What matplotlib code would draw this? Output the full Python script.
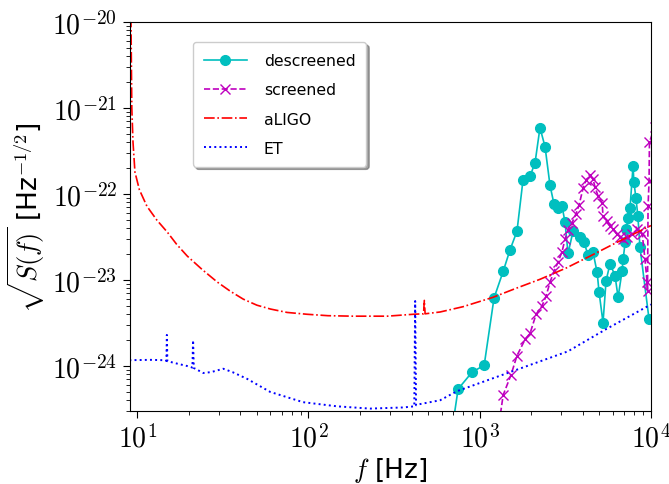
import math
import matplotlib
matplotlib.use("Agg")
import matplotlib.pyplot as plt
from matplotlib.ticker import FuncFormatter, LogLocator

plt.rcParams['mathtext.fontset'] = 'cm'
plt.rcParams['font.family'] = ['DejaVu Sans']

# ---- data ----
descreened_f = [680, 748, 903, 1062, 1213, 1371, 1503, 1651, 1790, 1969, 2104, 2249, 2408,
                2574, 2718, 2868, 3027, 3150, 3280, 3510, 3856, 4066, 4294, 4590, 4850,
                4980, 5250, 5470, 5770, 6170, 6430, 6780, 6880, 7070, 7160, 7350, 7550,
                7863, 7950, 8180, 8390, 8630, 9750]
descreened_s = [1.5e-25, 5.4e-25, 8.5e-25, 1.02e-24, 6.2e-24, 1.26e-23, 2.24e-23, 3.7e-23,
                1.45e-22, 1.62e-22, 2.3e-22, 5.9e-22, 3.55e-22, 1.26e-22, 7.6e-23, 6.9e-23,
                7.2e-23, 4.7e-23, 2.04e-23, 3.7e-23, 3.2e-23, 2.75e-23, 1.95e-23, 2.1e-23,
                1.23e-23, 7.2e-24, 3.2e-24, 9.8e-24, 1.55e-23, 1.12e-23, 6.3e-24, 1.26e-23,
                1.74e-23, 2.75e-23, 3.9e-23, 5.2e-23, 6.9e-23, 2.14e-22, 1.38e-22, 8.9e-23,
                5.5e-23, 2.4e-23, 3.5e-24]

screened_f = [1300, 1371, 1524, 1651, 1841, 1969, 2134, 2311, 2441, 2576, 2718, 2868, 3027,
              3150, 3280, 3457, 3652, 3800, 4016, 4180, 4414, 4590, 4720, 4910, 5190, 5250,
              5546, 5770, 6010, 6340, 6600, 6870, 7260, 7760, 8300, 8630, 8900, 9230, 9490,
              9550, 9620, 9750, 9800, 10500]
screened_s = [2.2e-25, 4.6e-25, 7.9e-25, 1.32e-24, 2.04e-24, 2.4e-24, 4.0e-24, 5.0e-24,
              6.5e-24, 9.5e-24, 1.26e-23, 1.62e-23, 2.14e-23, 3.0e-23, 3.8e-23, 4.6e-23,
              5.9e-23, 7.4e-23, 1.17e-22, 1.45e-22, 1.66e-22, 1.48e-22, 1.2e-22, 9.5e-23,
              7.9e-23, 5.5e-23, 4.9e-23, 4.3e-23, 3.9e-23, 3.4e-23, 3.2e-23, 3.0e-23,
              3.16e-23, 3.4e-23, 3.9e-23, 3.7e-23, 3.4e-23, 1.74e-23, 9.5e-24, 7.4e-24,
              7.2e-23, 1.4e-22, 4.0e-22, 6.0e-22]

aligo_f = [9.1, 9.2, 9.25, 9.3, 9.45, 9.7, 10.3, 11.4, 13, 15, 17, 19.6, 24, 29.3, 35, 41.6,
           50, 60, 75, 98, 130, 182, 288, 410, 470, 475, 480, 587, 800, 1197, 1600, 2250,
           3200, 4414, 6000, 7870, 10000]
aligo_s = [1.0e-19, 1.0e-20, 3.0e-21, 1.0e-21, 4.0e-22, 1.8e-22, 1.12e-22, 7.2e-23, 5.0e-23,
           3.6e-23, 2.6e-23, 1.9e-23, 1.32e-23, 9.5e-24, 7.4e-24, 6.0e-24, 5.1e-24, 4.6e-24,
           4.2e-24, 4.0e-24, 3.85e-24, 3.8e-24, 3.8e-24, 4.0e-24, 4.05e-24, 5.8e-24, 4.05e-24,
           4.25e-24, 4.9e-24, 6.3e-24, 7.9e-24, 1.02e-23, 1.38e-23, 1.9e-23, 2.6e-23,
           3.4e-23, 4.3e-23]

et_f = [9.0, 12, 14.2, 14.8, 14.9, 15.0, 17, 19.6, 21.0, 21.2, 21.4, 24.3, 27, 31.8, 36,
        43.8, 59.8, 93, 147, 229, 358, 415, 420, 425, 445, 587, 737, 1505, 3270, 5500, 10000]
et_s = [1.17e-24, 1.18e-24, 1.17e-24, 1.15e-24, 2.3e-24, 1.14e-24, 1.07e-24, 1.0e-24,
        0.96e-24, 2.0e-24, 0.95e-24, 0.83e-24, 0.85e-24, 0.93e-24, 0.85e-24, 0.71e-24,
        0.5e-24, 0.38e-24, 0.34e-24, 0.32e-24, 0.33e-24, 0.34e-24, 5.7e-24, 0.35e-24,
        0.36e-24, 0.40e-24, 0.51e-24, 0.85e-24, 1.48e-24, 2.7e-24, 5.2e-24]

x_limits = (9.05, 1e4)
y_limits = (3.0e-25, 1e-20)

# ---- plot ----
fig = plt.figure(figsize=(6.69, 4.85), dpi=100)
ax = fig.add_axes([0.194, 0.1505, 0.779, 0.802])

ax.loglog(descreened_f, descreened_s, color='c', marker='o', markersize=7,
          linewidth=1.2, label='descreened')
ax.loglog(screened_f, screened_s, color='m', marker='x', markersize=7, linestyle='--',
          linewidth=1.2, label='screened')
ax.loglog(aligo_f, aligo_s, color='r', linestyle='-.', linewidth=1.2, label='aLIGO')
ax.loglog(et_f, et_s, color='b', linestyle=':', linewidth=1.4, label='ET')

ax.set_xlim(*x_limits)
ax.set_ylim(*y_limits)


def cm_pow(v, pos):
    e = int(round(math.log10(v)))
    return r'$10^{%d}$' % e


for axis in (ax.xaxis, ax.yaxis):
    axis.set_major_locator(LogLocator(base=10, numticks=20))
    axis.set_major_formatter(FuncFormatter(cm_pow))

ax.tick_params(axis='both', which='major', labelsize=20, length=5, pad=4)
ax.tick_params(axis='both', which='minor', length=3)

ax.set_xlabel(r'$f$ [Hz]', fontsize=19, labelpad=2)
ax.set_ylabel(r'$\sqrt{S(f)}$ [Hz$^{-1/2}$]', fontsize=19, labelpad=4)

leg = ax.legend(loc='upper left', bbox_to_anchor=(0.121, 0.948), borderaxespad=0,
                fontsize=11.3, shadow=True, fancybox=True, handlelength=2.74,
                borderpad=0.7, labelspacing=0.9, handletextpad=1.08)

fig.savefig('out.png', dpi=100)
